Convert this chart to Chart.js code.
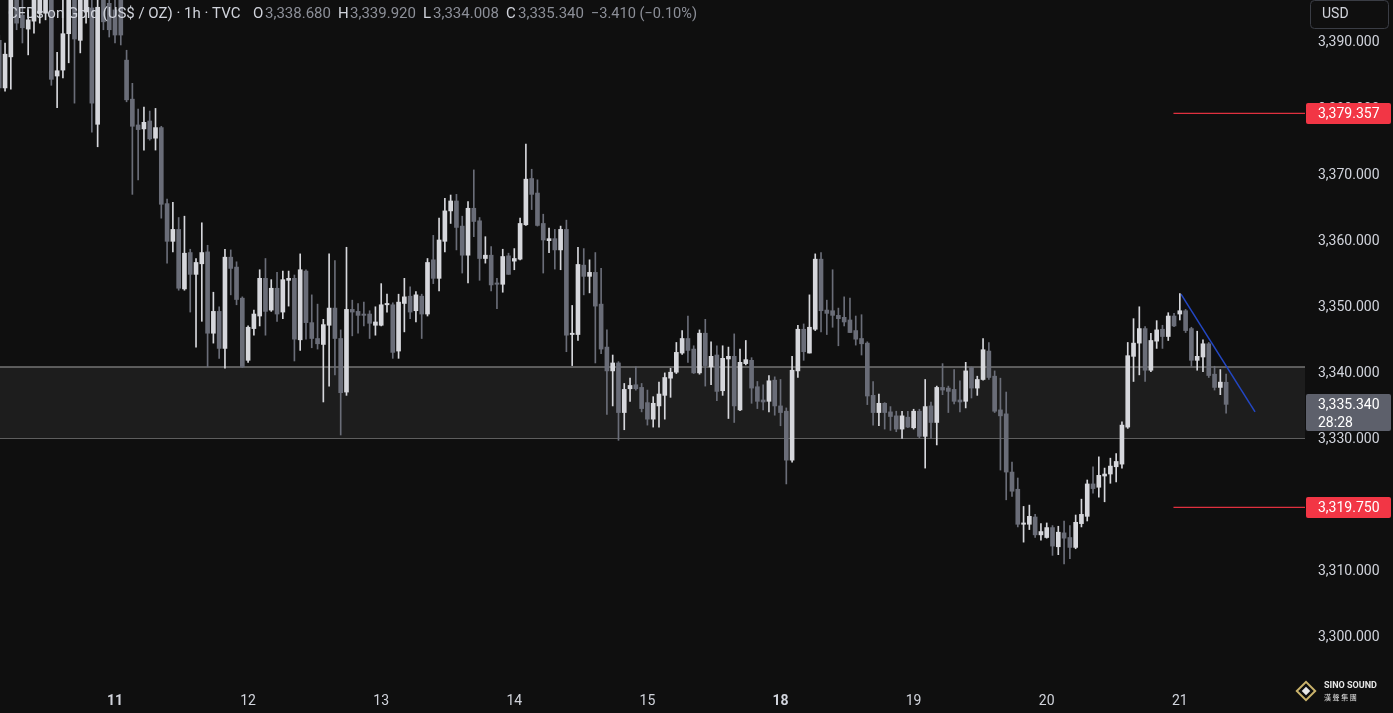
<!DOCTYPE html>
<html><head><meta charset="utf-8">
<script src="https://cdn.jsdelivr.net/npm/chart.js@4.4.1/dist/chart.umd.min.js"></script>
<style>
html,body{margin:0;padding:0;background:#0f0f0f;overflow:hidden}
canvas{display:block}
</style></head>
<body>
<canvas id="c" width="1393" height="713"></canvas>
<script>
// ---- data (hourly candles, index 0..212) ----
const dayTickIndex = [20, 43, 66, 89, 112, 135, 158, 181, 204];
const dayTickLabels = ['11', '12', '13', '14', '15', '18', '19', '20', '21'];
const weekStartLabels = ['11', '18'];
const priceTicks = [3300, 3310, 3320, 3330, 3340, 3350, 3360, 3370, 3380, 3390];

const opens = [3390.4,3383.2,3387.9,3398.0,3394.2,3392.1,3393.3,3394.5,3394.5,3399.0,
3385.0,3385.9,3391.4,3397.5,3390.4,3394.7,3395.3,3377.7,3397.0,3396.0,
3395.0,3396.5,3387.4,3381.5,3377.6,3377.0,3378.2,3375.6,3377.2,3365.7,
3360.0,3361.8,3352.8,3358.3,3355.0,3356.6,3358.4,3346.1,3349.4,3343.8,
3357.6,3356.1,3351.4,3342.0,3346.8,3348.7,3354.4,3349.6,3352.9,3349.3,
3354.1,3354.4,3345.1,3355.5,3347.7,3345.3,3344.4,3347.3,3349.9,3345.3,
3337.2,3349.7,3349.4,3349.0,3349.0,3347.3,3347.3,3350.4,3350.4,3343.4,
3350.6,3351.7,3349.5,3351.7,3349.0,3357.2,3354.4,3360.0,3364.6,3366.1,
3362.3,3357.9,3365.0,3363.1,3357.4,3357.9,3353.7,3353.5,3357.8,3357.0,
3357.3,3362.5,3369.5,3367.3,3362.7,3360.1,3360.4,3358.7,3361.8,3345.9,
3345.9,3356.4,3354.7,3355.3,3350.5,3344.0,3340.4,3341.6,3334.1,3337.7,
3338.3,3337.9,3335.6,3333.1,3335.1,3336.7,3339.3,3340.2,3343.1,3345.3,
3343.7,3340.1,3346.1,3341.0,3342.8,3337.4,3342.2,3342.6,3334.5,3341.5,
3342.0,3338.0,3336.0,3335.8,3339.0,3335.1,3334.3,3326.9,3340.4,3346.7,
3343.1,3346.7,3357.3,3349.6,3349.5,3348.8,3348.5,3348.1,3346.5,3345.3,
3344.6,3336.7,3334.1,3335.5,3334.2,3333.6,3331.6,3333.4,3331.8,3334.3,
3330.5,3335.1,3332.6,3337.9,3337.8,3337.6,3336.0,3335.8,3340.9,3337.8,
3339.1,3343.4,3339.6,3334.5,3333.9,3325.1,3322.5,3317.2,3317.2,3318.3,
3315.6,3315.2,3316.7,3313.8,3315.9,3315.2,3313.7,3317.3,3318.4,3323.3,
3322.8,3324.5,3324.8,3325.9,3326.3,3331.9,3342.6,3344.6,3346.8,3340.5,
3344.9,3346.7,3345.6,3348.7,3349.0,3349.5,3346.8,3342.0,3342.5,3344.5,
3339.9,3337.9,3338.68];

const highs = [3391.2,3390.0,3399.0,3399.0,3396.5,3395.0,3398.0,3399.0,3400.0,3400.0,
3388.6,3396.5,3398.5,3399.0,3399.0,3400.0,3398.0,3398.0,3398.0,3398.0,
3397.0,3398.0,3388.9,3383.9,3380.0,3380.3,3379.7,3380.1,3377.4,3366.4,
3365.9,3363.6,3363.8,3358.8,3357.4,3362.8,3359.4,3352.3,3350.1,3358.8,
3358.7,3356.9,3351.6,3347.2,3349.6,3355.7,3357.4,3354.2,3355.3,3355.5,
3355.5,3354.9,3358.1,3355.7,3351.9,3350.5,3348.2,3358.1,3357.1,3346.6,
3359.1,3351.1,3350.6,3350.8,3349.5,3350.1,3353.6,3352.0,3350.7,3352.0,
3354.4,3353.1,3352.4,3352.0,3357.4,3360.9,3363.5,3366.5,3367.0,3367.1,
3363.8,3366.0,3370.8,3363.6,3360.7,3359.2,3354.4,3358.8,3358.2,3358.9,
3363.5,3374.7,3370.9,3369.3,3364.1,3362.0,3361.8,3362.3,3363.2,3350.3,
3359.1,3358.9,3357.2,3358.3,3355.9,3346.6,3342.8,3341.8,3338.5,3339.3,
3341.0,3338.5,3337.5,3336.5,3338.7,3340.1,3340.8,3344.7,3346.5,3348.7,
3344.2,3346.6,3348.2,3344.8,3344.2,3344.2,3344.0,3346.0,3343.7,3345.0,
3342.4,3338.8,3338.3,3339.7,3339.5,3339.1,3334.8,3342.6,3347.3,3347.5,
3351.9,3358.1,3358.3,3351.1,3355.7,3349.9,3351.6,3351.4,3348.7,3348.9,
3344.8,3338.8,3336.9,3335.6,3335.0,3334.3,3334.3,3334.3,3334.6,3334.6,
3339.1,3335.7,3338.1,3341.5,3338.1,3340.6,3338.9,3341.7,3341.0,3339.6,
3345.3,3344.7,3340.4,3339.3,3337.2,3326.6,3324.2,3319.9,3320.1,3318.7,
3317.3,3317.4,3317.0,3316.9,3317.7,3317.0,3318.6,3321.0,3323.9,3325.9,
3327.4,3325.7,3327.2,3327.9,3332.7,3344.7,3348.3,3350.1,3347.1,3346.1,
3348.0,3347.3,3349.2,3349.1,3352.1,3349.7,3347.0,3346.4,3345.1,3344.7,
3341.1,3340.6,3339.92];

const lows = [3382.7,3382.7,3383.0,3392.0,3390.0,3388.2,3391.5,3393.0,3393.5,3383.6,
3380.2,3384.7,3387.0,3380.9,3388.5,3393.0,3376.5,3374.3,3392.0,3390.9,
3390.0,3389.7,3381.1,3367.1,3369.3,3373.8,3375.3,3373.8,3363.5,3356.7,
3358.4,3352.6,3352.6,3349.3,3344.0,3347.9,3341.0,3344.6,3342.3,3340.8,
3351.9,3350.4,3340.9,3341.7,3345.8,3347.2,3345.8,3349.4,3347.9,3348.3,
3350.2,3341.9,3343.5,3345.2,3343.9,3343.7,3335.7,3338.1,3339.8,3330.7,
3336.7,3345.7,3346.1,3347.2,3345.3,3345.8,3347.2,3349.3,3342.3,3342.3,
3346.3,3348.3,3347.8,3345.3,3348.7,3353.6,3352.5,3358.4,3362.7,3358.7,
3355.2,3353.7,3360.7,3354.1,3356.7,3352.5,3349.8,3352.3,3355.0,3355.7,
3357.2,3362.4,3364.8,3362.3,3355.2,3358.3,3355.8,3355.7,3343.3,3341.2,
3345.0,3351.9,3352.2,3341.6,3343.0,3333.8,3335.1,3329.9,3331.5,3335.8,
3337.5,3334.2,3332.2,3331.9,3331.9,3333.1,3336.4,3340.0,3342.9,3341.7,
3340.0,3339.9,3338.1,3338.3,3335.9,3336.7,3333.2,3332.6,3334.4,3341.3,
3335.5,3334.7,3334.5,3334.2,3333.7,3332.1,3323.3,3326.6,3339.4,3342.0,
3343.1,3346.5,3346.3,3345.9,3347.0,3344.2,3347.2,3346.2,3344.3,3342.8,
3335.3,3332.2,3332.1,3331.6,3331.4,3331.2,3330.2,3331.8,3331.6,3330.3,
3325.7,3330.2,3329.2,3336.8,3334.1,3335.4,3334.2,3334.8,3336.3,3336.7,
3339.0,3339.1,3334.1,3325.4,3320.9,3321.4,3316.8,3314.5,3316.4,3315.2,
3314.8,3315.1,3312.5,3312.6,3311.2,3312.0,3313.5,3316.8,3317.7,3321.9,
3321.3,3320.6,3323.4,3323.6,3325.7,3331.7,3338.8,3339.8,3338.8,3340.3,
3343.8,3343.8,3345.0,3347.1,3348.1,3346.2,3341.1,3340.5,3340.3,3339.4,
3337.5,3336.8,3334.008];

const closes = [3383.2,3388.3,3398.0,3393.0,3392.3,3393.5,3397.0,3398.0,3399.0,3384.5,
3385.8,3391.4,3397.5,3390.6,3398.0,3398.5,3380.9,3395.4,3393.2,3392.0,
3391.2,3391.2,3381.4,3377.4,3376.9,3378.0,3375.5,3377.2,3365.6,3360.0,
3361.8,3352.9,3358.2,3355.0,3356.8,3358.3,3346.1,3349.4,3343.8,3357.6,
3355.9,3351.2,3341.0,3347.0,3349.0,3354.4,3349.4,3352.9,3349.0,3354.2,
3354.4,3345.2,3355.7,3347.7,3345.3,3344.5,3347.4,3349.9,3345.3,3337.1,
3349.7,3349.3,3348.8,3348.8,3347.6,3347.8,3350.4,3350.6,3343.2,3350.8,
3351.6,3349.3,3351.9,3349.0,3356.8,3354.4,3360.2,3364.6,3366.1,3362.1,
3357.9,3365.0,3363.0,3357.4,3357.9,3353.4,3353.5,3357.7,3355.0,3357.4,
3362.7,3369.4,3367.1,3362.4,3360.2,3360.4,3358.7,3361.8,3345.8,3346.1,
3356.5,3354.7,3355.3,3350.2,3343.7,3340.4,3341.6,3334.1,3337.6,3338.2,
3337.7,3334.7,3333.1,3335.5,3336.9,3339.4,3340.2,3343.2,3345.3,3343.5,
3340.1,3346.1,3341.2,3342.6,3337.3,3342.3,3342.6,3335.1,3341.7,3342.1,
3337.8,3335.8,3335.7,3338.9,3335.1,3334.1,3326.9,3340.5,3346.7,3343.3,
3347.0,3357.3,3349.5,3349.1,3348.8,3348.3,3347.8,3346.2,3345.2,3344.5,
3336.6,3334.1,3335.5,3334.1,3333.5,3331.6,3333.6,3331.9,3334.3,3330.5,
3335.0,3332.6,3337.9,3337.5,3337.3,3335.8,3335.7,3340.4,3337.8,3339.1,
3343.6,3339.4,3334.3,3333.6,3325.1,3322.2,3317.2,3317.4,3318.4,3315.6,
3316.1,3316.7,3313.9,3316.0,3315.1,3313.7,3317.5,3318.7,3323.3,3322.6,
3324.6,3324.8,3326.0,3326.7,3332.2,3342.7,3344.6,3346.8,3340.5,3345.0,
3346.6,3345.6,3348.7,3347.2,3349.5,3346.5,3342.0,3342.6,3344.5,3339.7,
3337.9,3338.7,3335.34];

const zoneLevels = [3341.0, 3330.2];
const markLevels = [3379.357, 3319.750];
const markStartIndex = 202.9;
const trendX = [204.2, 217.0];
const trendY = [3352.0, 3334.2];
const headerTitle = 'CFDs on Gold (US$ / OZ) · 1h · TVC';
const headerKeys = ['O', 'H', 'L', 'C'];
const headerVals = ['3,338.680', '3,339.920', '3,334.008', '3,335.340'];
const headerChange = '−3.410 (−0.10%)';
const countdown = '28:28';

// ---- view ----
const X_MIN = 0.128, X_MAX = 225.63;
const Y_MIN = 3292.89, Y_MAX = 3396.5;
const BG = '#0f0f0f';
const UP = '#d6d7dc', DOWN = '#6a6d78';
const TXT = '#d1d4dc';
const FONT = 'Roboto, "Liberation Sans", sans-serif';

const idx = opens.map((_, i) => i);
const candleColors = idx.map(i => closes[i] >= opens[i] ? UP : DOWN);
const fmt = v => v.toLocaleString('en-US', {minimumFractionDigits: 3, maximumFractionDigits: 3});

function rrect(c, x, y, w, h, r) {
  c.beginPath();
  c.moveTo(x + r, y); c.lineTo(x + w - r, y); c.quadraticCurveTo(x + w, y, x + w, y + r);
  c.lineTo(x + w, y + h - r); c.quadraticCurveTo(x + w, y + h, x + w - r, y + h);
  c.lineTo(x + r, y + h); c.quadraticCurveTo(x, y + h, x, y + h - r);
  c.lineTo(x, y + r); c.quadraticCurveTo(x, y, x + r, y); c.closePath();
}

const overlay = {
  id: 'overlay',
  beforeDraw(chart) {
    const c = chart.ctx; c.save(); c.fillStyle = BG; c.fillRect(0, 0, chart.width, chart.height); c.restore();
  },
  afterDraw(chart) {
    const c = chart.ctx, ys = chart.scales.y;
    c.save();
    c.textBaseline = 'middle';
    // red level tags
    markLevels.forEach(v => {
      const y = Math.round(ys.getPixelForValue(v));
      rrect(c, 1306, y - 10, 85, 21, 2); c.fillStyle = '#f23645'; c.fill();
      c.fillStyle = '#ffffff'; c.font = '14px ' + FONT; c.fillText(fmt(v), 1318, y + 1, 66);
    });
    // last price tag
    const lp = closes[closes.length - 1];
    const yl = Math.round(ys.getPixelForValue(lp));
    rrect(c, 1306, yl - 10, 85, 37, 2); c.fillStyle = '#5d606b'; c.fill();
    c.fillStyle = '#ffffff'; c.font = '14px ' + FONT;
    c.fillText(fmt(lp), 1318, yl + 1, 66);
    c.fillText(countdown, 1318, yl + 19);
    // header
    c.font = '15px ' + FONT;
    c.fillStyle = TXT; c.fillText(headerTitle, 8, 14, 234);
    const keyX = [253, 338, 423, 506], valX = [265, 350, 433, 518];
    headerKeys.forEach((k, i) => {
      c.fillStyle = TXT; c.fillText(k, keyX[i], 14);
      c.fillStyle = '#8c8f98'; c.fillText(headerVals[i], valX[i], 14, 66);
    });
    c.fillStyle = '#8c8f98'; c.fillText(headerChange, 591, 14, 106);
    // USD box
    rrect(c, 1310.5, 0.5, 78, 28, 4); c.strokeStyle = '#3a3d45'; c.lineWidth = 1; c.stroke();
    c.fillStyle = TXT; c.font = '14px ' + FONT; c.fillText('USD', 1322, 14);
    // watermark
    c.save();
    c.translate(1306, 691); c.rotate(Math.PI / 4);
    c.strokeStyle = '#c9b26b'; c.lineWidth = 2; c.strokeRect(-6.5, -6.5, 13, 13);
    c.fillStyle = '#e8e8e8'; c.fillRect(-3, -3, 6, 6);
    c.restore();
    c.fillStyle = '#e6e6e6'; c.font = 'bold 9px ' + FONT; c.fillText('SINO SOUND', 1324, 686, 60);
    c.font = '7px "Noto Sans CJK TC", sans-serif'; c.fillText('漢 聲 集 團', 1324, 697, 58);
    c.restore();
  }
};

const lineDs = (pts, color, width, extra) => Object.assign({
  type: 'line', data: pts, borderColor: color, borderWidth: width, pointRadius: 0, fill: false, tension: 0
}, extra || {});

new Chart(document.getElementById('c'), {
  type: 'bar',
  data: {
    datasets: [
      { label: 'bodies', data: idx.map(i => ({x: i, y: [opens[i], closes[i]]})), backgroundColor: candleColors,
        barThickness: 4, grouped: false, minBarLength: 1, borderWidth: 0 },
      { label: 'wicks', data: idx.map(i => ({x: i, y: [lows[i], highs[i]]})), backgroundColor: candleColors,
        barThickness: 1, grouped: false, borderWidth: 0 },
      lineDs([{x: markStartIndex, y: markLevels[0]}, {x: X_MAX, y: markLevels[0]}], '#e0303f', 1.2),
      lineDs([{x: markStartIndex, y: markLevels[1]}, {x: X_MAX, y: markLevels[1]}], '#e0303f', 1.2),
      lineDs([{x: trendX[0], y: trendY[0]}, {x: trendX[1], y: trendY[1]}], '#2347c4', 1.5),
      lineDs([{x: X_MIN, y: zoneLevels[0]}, {x: X_MAX, y: zoneLevels[0]}], '#747474', 1.5, {fill: '+1', backgroundColor: '#1d1d1d'}),
      lineDs([{x: X_MIN, y: zoneLevels[1]}, {x: X_MAX, y: zoneLevels[1]}], '#747474', 1.5)
    ]
  },
  options: {
    responsive: false, devicePixelRatio: 1, animation: false,
    layout: {padding: 0},
    plugins: {legend: {display: false}, tooltip: {enabled: false}},
    scales: {
      x: {
        type: 'linear', min: X_MIN, max: X_MAX, offset: false,
        grid: {display: false, drawTicks: false, offset: false}, border: {display: false},
        afterBuildTicks: s => { s.ticks = dayTickIndex.map(v => ({value: v})); },
        afterFit: s => { s.height = 28; s.paddingLeft = 0; s.paddingRight = 0; },
        ticks: {
          autoSkip: false, maxRotation: 0, padding: 8, color: TXT,
          font: ctx => ({family: FONT, size: 14, weight: (ctx.tick && weekStartLabels.includes(dayTickLabels[dayTickIndex.indexOf(ctx.tick.value)])) ? 'bold' : 'normal'}),
          callback: v => dayTickLabels[dayTickIndex.indexOf(v)]
        }
      },
      y: {
        type: 'linear', position: 'right', min: Y_MIN, max: Y_MAX,
        grid: {display: false, drawTicks: false}, border: {display: false},
        afterBuildTicks: s => { s.ticks = priceTicks.map(v => ({value: v})); },
        afterFit: s => { s.width = 88; s.paddingTop = 0; s.paddingBottom = 0; },
        ticks: { padding: 13, color: TXT, font: {family: FONT, size: 14}, callback: v => fmt(v) }
      }
    }
  },
  plugins: [overlay]
});
</script>
</body></html>
